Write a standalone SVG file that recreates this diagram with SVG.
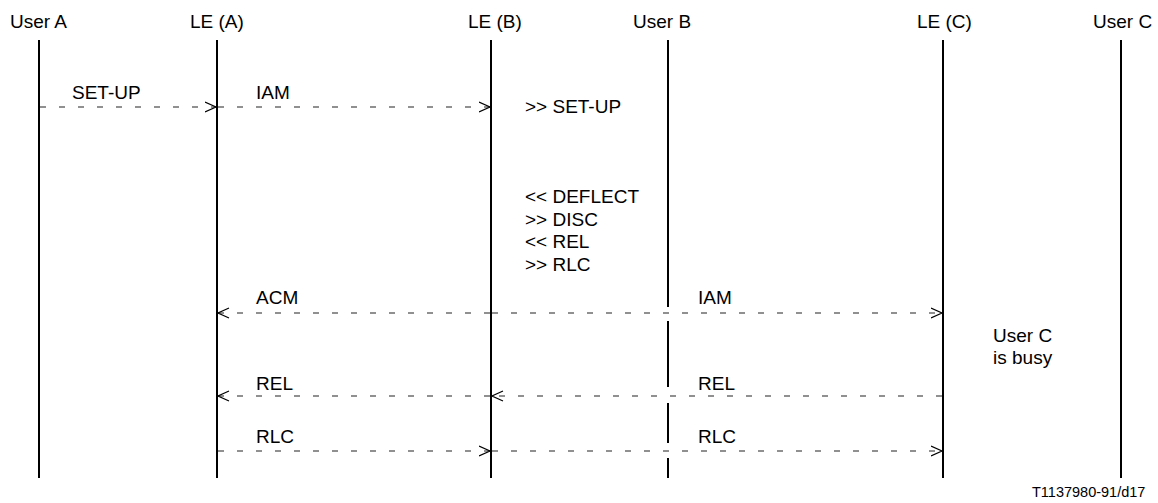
<svg xmlns="http://www.w3.org/2000/svg" width="1158" height="503" viewBox="0 0 1158 503">
  <style>
    text { font-family: "Liberation Sans", Arial, sans-serif; font-size: 19px; fill: #000; }
    .life { stroke: #000; stroke-width: 2; fill: none; }
    .msg { stroke: #222; stroke-width: 1.2; stroke-dasharray: 6 13; fill: none; marker-end: url(#chev); }
    .foot { font-size: 14.5px; }
  </style>
  <defs>
    <marker id="chev" markerUnits="userSpaceOnUse" markerWidth="13" markerHeight="12" refX="11.5" refY="6" orient="auto">
      <path d="M0.5,1 L11.5,6 L0.5,11" fill="none" stroke="#000" stroke-width="1.2"/>
    </marker>
  </defs>

  <rect width="1158" height="503" fill="#fff"/>

  <!-- participants with their lifelines -->
  <g id="user-a">
    <text x="10" y="28">User A</text>
    <line class="life" x1="39" y1="40" x2="39" y2="478"/>
  </g>
  <g id="le-a">
    <text x="190" y="28">LE (A)</text>
    <line class="life" x1="217" y1="40" x2="217" y2="478"/>
  </g>
  <g id="le-b">
    <text x="468" y="28">LE (B)</text>
    <line class="life" x1="491" y1="40" x2="491" y2="478"/>
    <text x="525" y="113">&gt;&gt; SET-UP</text>
    <text x="525" y="203">&lt;&lt; DEFLECT</text>
    <text x="525" y="225.5">&gt;&gt; DISC</text>
    <text x="525" y="248">&lt;&lt; REL</text>
    <text x="525" y="270.5">&gt;&gt; RLC</text>
  </g>
  <g id="user-b">
    <text x="633" y="28">User B</text>
    <path class="life" d="M668,40 V307 M668,321 V387 M668,403 V443 M668,458 V478"/>
  </g>
  <g id="le-c">
    <text x="917" y="28">LE (C)</text>
    <line class="life" x1="943" y1="40" x2="943" y2="478"/>
    <text x="993" y="342">User C</text>
    <text x="993" y="364">is busy</text>
  </g>
  <g id="user-c">
    <text x="1093" y="28">User C</text>
    <line class="life" x1="1121" y1="40" x2="1121" y2="478"/>
  </g>

  <!-- signalling messages -->
  <g id="connectors">
    <line class="msg" x1="40" y1="107" x2="216" y2="107"/>
    <line class="msg" x1="218" y1="107" x2="490" y2="107"/>

    <line class="msg" x1="490" y1="313" x2="218" y2="313"/>
    <line class="msg" x1="492" y1="313" x2="942" y2="313"/>

    <line class="msg" x1="942" y1="396" x2="492" y2="396"/>
    <line class="msg" x1="490" y1="396" x2="218" y2="396"/>

    <line class="msg" x1="218" y1="451" x2="490" y2="451"/>
    <line class="msg" x1="492" y1="451" x2="942" y2="451"/>
  </g>

  <g id="labels">
    <text x="72" y="99">SET-UP</text>
    <text x="256" y="99">IAM</text>
    <text x="256" y="304">ACM</text>
    <text x="698" y="304">IAM</text>
    <text x="256" y="390">REL</text>
    <text x="698" y="390">REL</text>
    <text x="256" y="443">RLC</text>
    <text x="698" y="443">RLC</text>
  </g>

  <text class="foot" x="1032" y="497">T1137980-91/d17</text>
</svg>
